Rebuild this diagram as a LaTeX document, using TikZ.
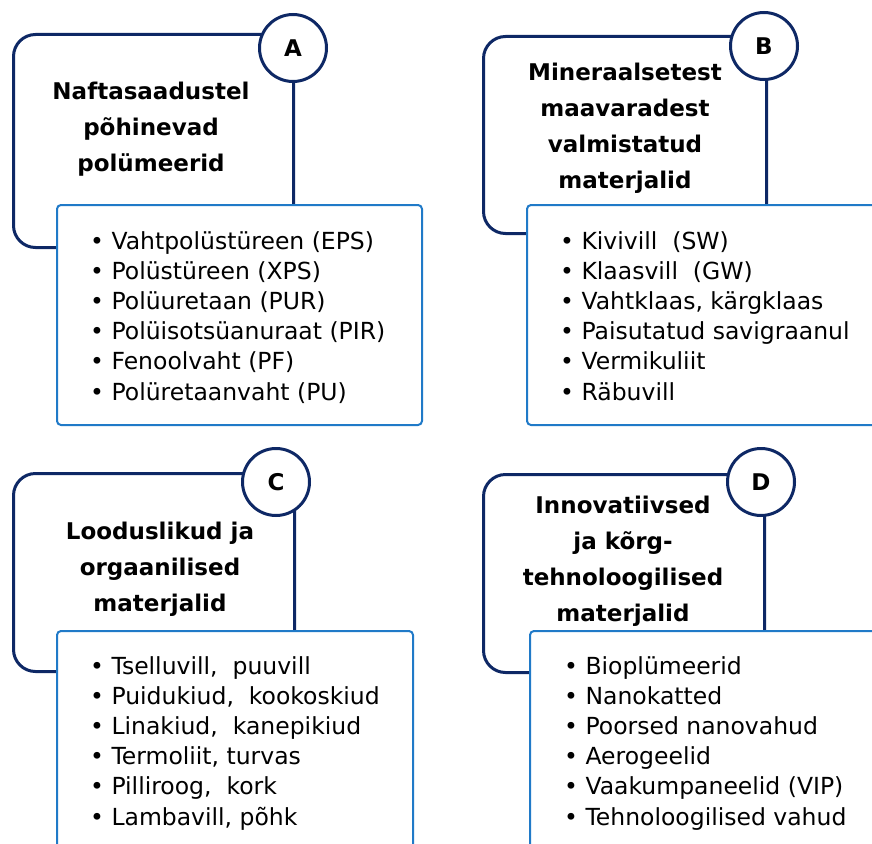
\documentclass[tikz,border=0pt]{standalone}
\usepackage{fontspec}
\setmainfont{DejaVu Sans}
\definecolor{navy}{RGB}{14,40,101}
\definecolor{azure}{RGB}{32,122,200}
\newcommand\bul{•\ }

\begin{document}
\begin{tikzpicture}[x=1pt,y=-1pt,
  frame/.style={draw=navy, line width=3pt, rounded corners=22pt, anchor=north west, inner sep=0pt},
  listbox/.style={draw=azure, line width=2pt, fill=white, rounded corners=4pt, anchor=north west, inner sep=0pt},
  badge/.style={circle, draw=navy, line width=3pt, fill=white, minimum size=67pt, inner sep=0pt,
    font=\fontsize{23}{28}\selectfont\bfseries},
  title/.style={align=center, font=\fontsize{23}{36}\selectfont\bfseries, inner sep=0pt},
  items/.style={align=left, font=\fontsize{23.5}{30.2}\selectfont, inner sep=0pt, anchor=north west},
]
\useasboundingbox (0,0) rectangle (872,843);
\clip (0,0) rectangle (872,843);

% ---- A: petroleum-based polymers
\node[frame, minimum width=280pt, minimum height=213pt] (fA) at (12,33) {};
\node[listbox, minimum width=365pt, minimum height=220pt] (bA) at (56,204) {};
\node[badge] (cA) at (293,48) {A};
\node[title] (tA) at (151,129) {Naftasaadustel\\põhinevad\\polümeerid};
\node[items] (lA) at (90,231) {\bul Vahtpolüstüreen (EPS)\\\bul Polüstüreen (XPS)\\\bul Polüuretaan (PUR)\\\bul Polüisotsüanuraat (PIR)\\\bul Fenoolvaht (PF)\\\bul Polüretaanvaht (PU)};

% ---- B: mineral-based materials
\node[frame, minimum width=283pt, minimum height=197pt] (fB) at (482,35) {};
\node[listbox, minimum width=380pt, minimum height=220pt] (bB) at (526,204) {};
\node[badge] (cB) at (764,46) {B};
\node[title] (tB) at (625,128) {Mineraalsetest\\maavaradest\\valmistatud\\materjalid};
\node[items] (lB) at (560,231) {\bul Kivivill\ \ (SW)\\\bul Klaasvill\ \ (GW)\\\bul Vahtklaas, kärgklaas\\\bul Paisutatud savigraanul\\\bul Vermikuliit\\\bul Räbuvill};

% ---- C: natural and organic materials
\node[frame, minimum width=281pt, minimum height=198pt] (fC) at (12,472) {};
\node[listbox, minimum width=356pt, minimum height=260pt] (bC) at (56,630) {};
\node[badge] (cC) at (276,482) {C};
\node[title] (tC) at (160,569) {Looduslikud ja\\orgaanilised\\materjalid};
\node[items] (lC) at (90,656) {\bul Tselluvill,\ \ puuvill\\\bul Puidukiud,\ \ kookoskiud\\\bul Linakiud,\ \ kanepikiud\\\bul Termoliit, turvas\\\bul Pilliroog,\ \ kork\\\bul Lambavill, põhk};

% ---- D: innovative and high-tech materials
\node[frame, minimum width=281pt, minimum height=198pt] (fD) at (482,473) {};
\node[listbox, minimum width=380pt, minimum height=260pt] (bD) at (529,630) {};
\node[badge] (cD) at (761,482) {D};
\node[title] (tD) at (623,561) {Innovatiivsed\\ja kõrg-\\tehnoloogilised\\materjalid};
\node[items] (lD) at (564,656) {\bul Bioplümeerid\\\bul Nanokatted\\\bul Poorsed nanovahud\\\bul Aerogeelid\\\bul Vaakumpaneelid (VIP)\\\bul Tehnoloogilised vahud};
\end{tikzpicture}
\end{document}
